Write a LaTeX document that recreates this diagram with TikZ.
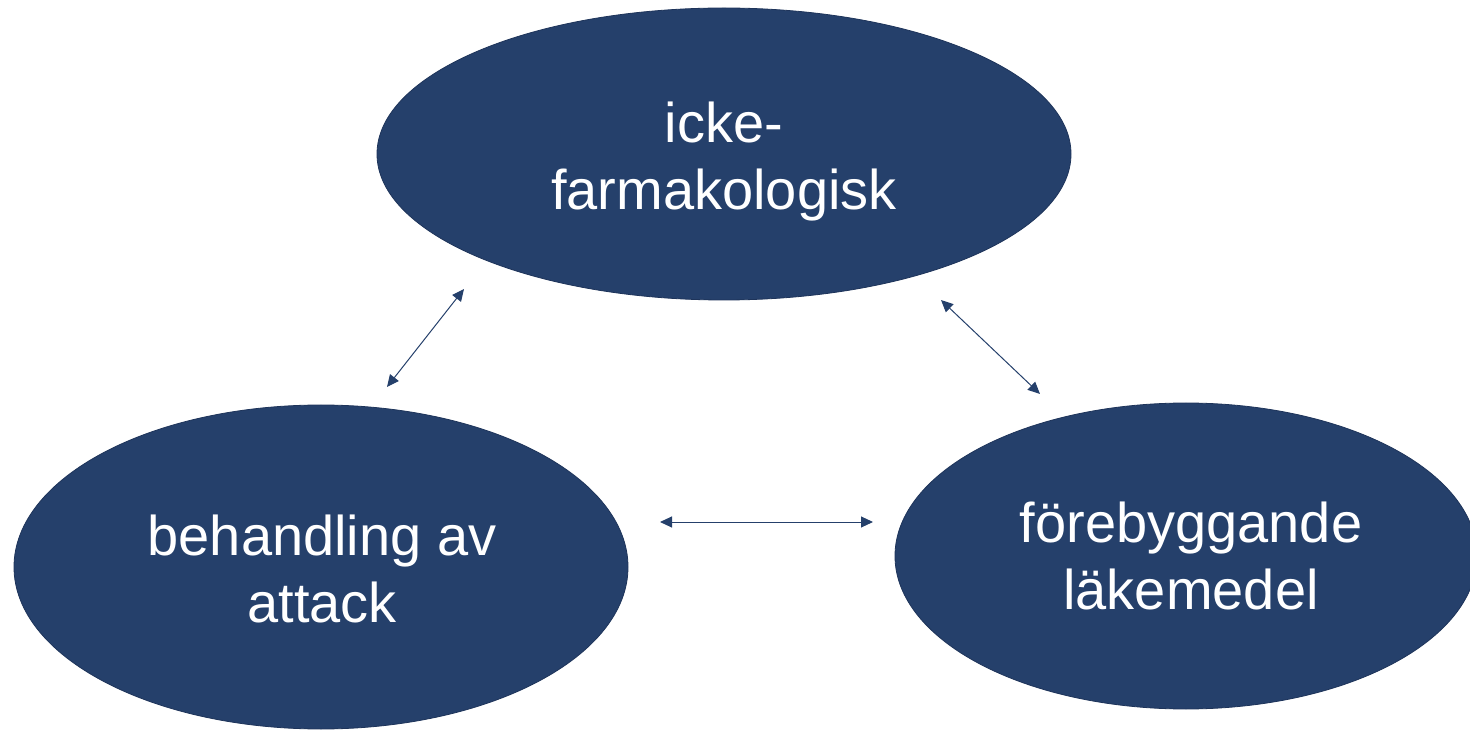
\documentclass[tikz,border=0pt]{standalone}
\usepackage{fontspec}
\setmainfont{Liberation Sans}
\usetikzlibrary{arrows.meta,shapes.geometric}
\definecolor{navy}{RGB}{37,64,107}
\definecolor{navyline}{RGB}{30,52,90}
\begin{document}
\begin{tikzpicture}[x=1pt,y=1pt,
  oval/.style={ellipse, fill=navy, draw=navyline, line width=0.8pt, inner sep=0pt},
  txt/.style={text=white, align=center, font=\fontsize{56}{67}\selectfont, inner sep=0pt},
  link/.style={draw=navy, line width=1pt, {Triangle[length=12pt,width=11pt]}-{Triangle[length=12pt,width=11pt]}}]
\useasboundingbox (0,0) rectangle (1470,729);
\clip (0,0) rectangle (1470,729);
% ellipses
\node[oval, minimum width=694pt, minimum height=292pt] (top) at (724,575) {};
\node[oval, minimum width=614pt, minimum height=324pt] (left) at (321,162) {};
\node[oval, minimum width=582pt, minimum height=306pt] (right) at (1186,173) {};
% texts
\node[txt] (toptext) at (724,567) {icke-\\farmakologisk};
\node[txt] (lefttext) at (322,160) {behandling av\\attack};
\node[txt] (righttext) at (1191,173) {förebyggande\\läkemedel};
% connector end points
\coordinate (a1) at (464,440);
\coordinate (a2) at (387,342);
\coordinate (b1) at (941,429);
\coordinate (b2) at (1040,335);
\coordinate (c1) at (660,207);
\coordinate (c2) at (873,207);
\draw[link] (a1) -- (a2);
\draw[link] (b1) -- (b2);
\draw[link] (c1) -- (c2);
\end{tikzpicture}
\end{document}
